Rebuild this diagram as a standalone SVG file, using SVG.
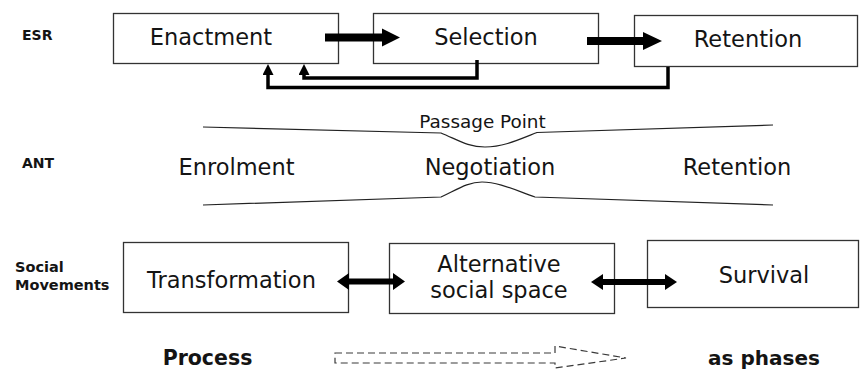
<svg xmlns="http://www.w3.org/2000/svg" width="860" height="370" viewBox="0 0 860 370">
  <style>
    .box { fill: #ffffff; stroke: #333333; stroke-width: 1.3; }
    .lbl { font-family: "DejaVu Sans", "Liberation Sans", sans-serif; font-size: 22.5px; fill: #141414; text-anchor: middle; }
    .row { font-family: "DejaVu Sans", "Liberation Sans", sans-serif; font-size: 14px; font-weight: bold; fill: #141414; }
    .foot { font-family: "DejaVu Sans", "Liberation Sans", sans-serif; font-size: 20.5px; font-weight: bold; fill: #141414; text-anchor: middle; }
    .thick { fill: #000000; }
    .loop { fill: none; stroke: #000000; stroke-width: 3.5; stroke-linejoin: miter; }
    .funnel { fill: none; stroke: #222222; stroke-width: 1.2; }
    .dashed { fill: #ffffff; stroke: #3a3a3a; stroke-width: 1.2; stroke-dasharray: 7 4; }
  </style>
  <defs>
    <!-- solid triangle drawn along +x, starting at the line end -->
    <marker id="loopHead" viewBox="0 0 11 11" refX="0" refY="5.5" markerWidth="11" markerHeight="11" markerUnits="userSpaceOnUse" orient="auto">
      <path d="M0,0 L11,5.5 L0,11 Z" fill="#000000"/>
    </marker>
  </defs>

  <rect width="860" height="370" fill="#ffffff"/>

  <!-- row labels -->
  <g id="row-labels">
    <text class="row" x="22" y="40">ESR</text>
    <text class="row" x="22" y="168">ANT</text>
    <text class="row" x="15" y="272" style="font-size:14.5px">Social</text>
    <text class="row" x="15" y="290" style="font-size:14.5px">Movements</text>
  </g>

  <!-- ESR row -->
  <g id="enactment">
    <rect class="box" x="113.5" y="13.5" width="225" height="50"/>
    <text class="lbl" x="211" y="45">Enactment</text>
  </g>
  <g id="selection">
    <rect class="box" x="373.5" y="13.5" width="225" height="50"/>
    <text class="lbl" x="486" y="45">Selection</text>
  </g>
  <g id="retention-esr">
    <rect class="box" x="634.5" y="15.5" width="223" height="51"/>
    <text class="lbl" x="748" y="47">Retention</text>
  </g>

  <!-- ANT row -->
  <g id="passage-point">
    <text class="lbl" x="482.5" y="128" style="font-size:18.4px">Passage Point</text>
    <path class="funnel" d="M203,127 L441,133 C458,140 468,147 485,147 C503,147 518,140 537,132.5 L773,125"/>
    <path class="funnel" d="M203,205 L441,197 C458,189 468,182 482,182 C498,182 515,190 535,197 L773,205"/>
  </g>
  <g id="enrolment">
    <text class="lbl" x="236.5" y="175">Enrolment</text>
  </g>
  <g id="negotiation">
    <text class="lbl" x="490" y="175">Negotiation</text>
  </g>
  <g id="retention-ant">
    <text class="lbl" x="737" y="175">Retention</text>
  </g>

  <!-- Social movements row -->
  <g id="transformation">
    <rect class="box" x="123.5" y="242.5" width="225" height="70"/>
    <text class="lbl" x="231.5" y="288">Transformation</text>
  </g>
  <g id="alternative-social-space">
    <rect class="box" x="389.5" y="243.5" width="225" height="70"/>
    <text class="lbl" x="499" y="272">Alternative</text>
    <text class="lbl" x="499" y="298">social space</text>
  </g>
  <g id="survival">
    <rect class="box" x="647.5" y="240.5" width="211" height="67"/>
    <text class="lbl" x="764" y="283">Survival</text>
  </g>

  <!-- footer -->
  <g id="footer">
    <text class="foot" x="207.5" y="365">Process</text>
    <text class="foot" x="764" y="365" style="font-size:20px">as phases</text>
    <path class="dashed" d="M335,353 L555,353 L555,346 L626,358 L555,368 L555,363 L335,363 Z"/>
  </g>

  <!-- connectors -->
  <g id="connectors">
    <!-- forward steps -->
    <polygon class="thick" points="325,33.5 382,33.5 382,28.5 400,37.5 382,46.5 382,41.5 325,41.5"/>
    <polygon class="thick" points="587,37 643,37 643,32 662,41 643,50 643,45 587,45"/>
    <!-- feedback loops -->
    <path class="loop" d="M477,60 L477,78 L304,78 L304,75" marker-end="url(#loopHead)"/>
    <path class="loop" d="M668,67 L668,87.5 L268,87.5 L268,75" marker-end="url(#loopHead)"/>
    <!-- two-way links -->
    <polygon class="thick" points="337,281.5 349,273 349,278.5 393,278.5 393,273 405,281.5 393,290 393,284.5 349,284.5 349,290"/>
    <polygon class="thick" points="591,282 603,274 603,279 665,279 665,274 677,282 665,290 665,285 603,285 603,290"/>
  </g>
</svg>
